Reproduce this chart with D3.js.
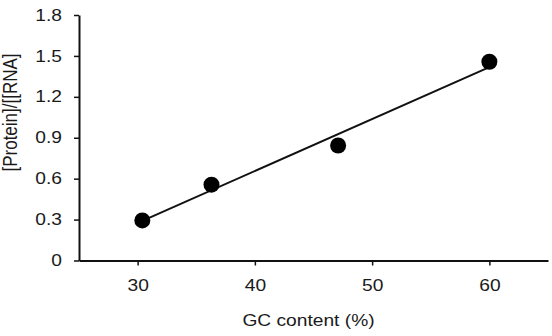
<!DOCTYPE html>
<html>
<head>
<meta charset="utf-8">
<script src="https://cdn.jsdelivr.net/npm/d3@7"></script>
<style>
  body { margin: 0; background: #fff; }
  text { font-family: "Liberation Sans", Arial, sans-serif; fill: #1a1a1a; }
</style>
</head>
<body>
<svg id="chart" width="552" height="336"></svg>
<script>
// GC content (%) vs protein/RNA ratio
const gcContent = [30.4, 36.3, 47.1, 60.0];
const ratio = [0.294, 0.556, 0.843, 1.457];
const xTicks = [30, 40, 50, 60];
const yTicks = [0, 0.3, 0.6, 0.9, 1.2, 1.5, 1.8];

const svg = d3.select('#chart');
const stretch = 1.2; // the source text is drawn a little wide

const x = d3.scaleLinear().domain([25, 65]).range([79, 548]);
const y = d3.scaleLinear().domain([0, 1.8]).range([260.5, 15]);

// Axes
const xAxis = svg.append('g')
  .attr('transform', 'translate(0,' + y(0) + ')')
  .call(d3.axisBottom(x).tickValues(xTicks).tickSizeInner(5).tickSizeOuter(0).tickPadding(14));

const yAxis = svg.append('g')
  .attr('transform', 'translate(' + x(25) + ',0)')
  .call(d3.axisLeft(y).tickValues(yTicks).tickSizeInner(5).tickSizeOuter(0)
    .tickFormat(d => d === 0 ? '0' : d3.format('.1f')(d)));

for (let axis of [xAxis, yAxis]) {
  axis.select('.domain').attr('stroke', '#111').attr('stroke-width', 2);
  axis.selectAll('.tick line').attr('stroke', '#111').attr('stroke-width', 1.5);
  axis.selectAll('.tick text')
    .attr('font-size', 16)
    .attr('font-family', '"Liberation Sans", Arial, sans-serif')
    .attr('fill', '#1a1a1a');
}
xAxis.selectAll('.tick text').attr('transform', 'scale(' + stretch + ',1)');
yAxis.selectAll('.tick text')
  .attr('x', -17 / stretch)
  .attr('transform', 'scale(' + stretch + ',1)');

// Least-squares fit over the data range
const mx = d3.mean(gcContent), my = d3.mean(ratio);
let sxy = 0, sxx = 0;
gcContent.forEach((g, i) => {
  sxy += (g - mx) * (ratio[i] - my);
  sxx += (g - mx) * (g - mx);
});
const slope = sxy / sxx;
const intercept = my - slope * mx;
const [x0, x1] = d3.extent(gcContent);

svg.append('line')
  .attr('x1', x(x0)).attr('y1', y(intercept + slope * x0))
  .attr('x2', x(x1)).attr('y2', y(intercept + slope * x1))
  .attr('stroke', '#111')
  .attr('stroke-width', 2);

// Points
svg.selectAll('circle.pt')
  .data(gcContent)
  .join('circle')
  .attr('class', 'pt')
  .attr('cx', d => x(d))
  .attr('cy', (d, i) => y(ratio[i]))
  .attr('r', 8)
  .attr('fill', '#000');

// Axis titles
svg.append('text')
  .attr('transform', 'translate(308.5,326) scale(' + stretch + ',1)')
  .attr('text-anchor', 'middle')
  .attr('font-size', 16)
  .text('GC content (%)');

svg.append('text')
  .attr('transform', 'translate(17,112.5) scale(' + stretch + ',1) rotate(-90)')
  .attr('text-anchor', 'middle')
  .attr('font-size', 17)
  .text('[Protein]/[[RNA]');
</script>
</body>
</html>
